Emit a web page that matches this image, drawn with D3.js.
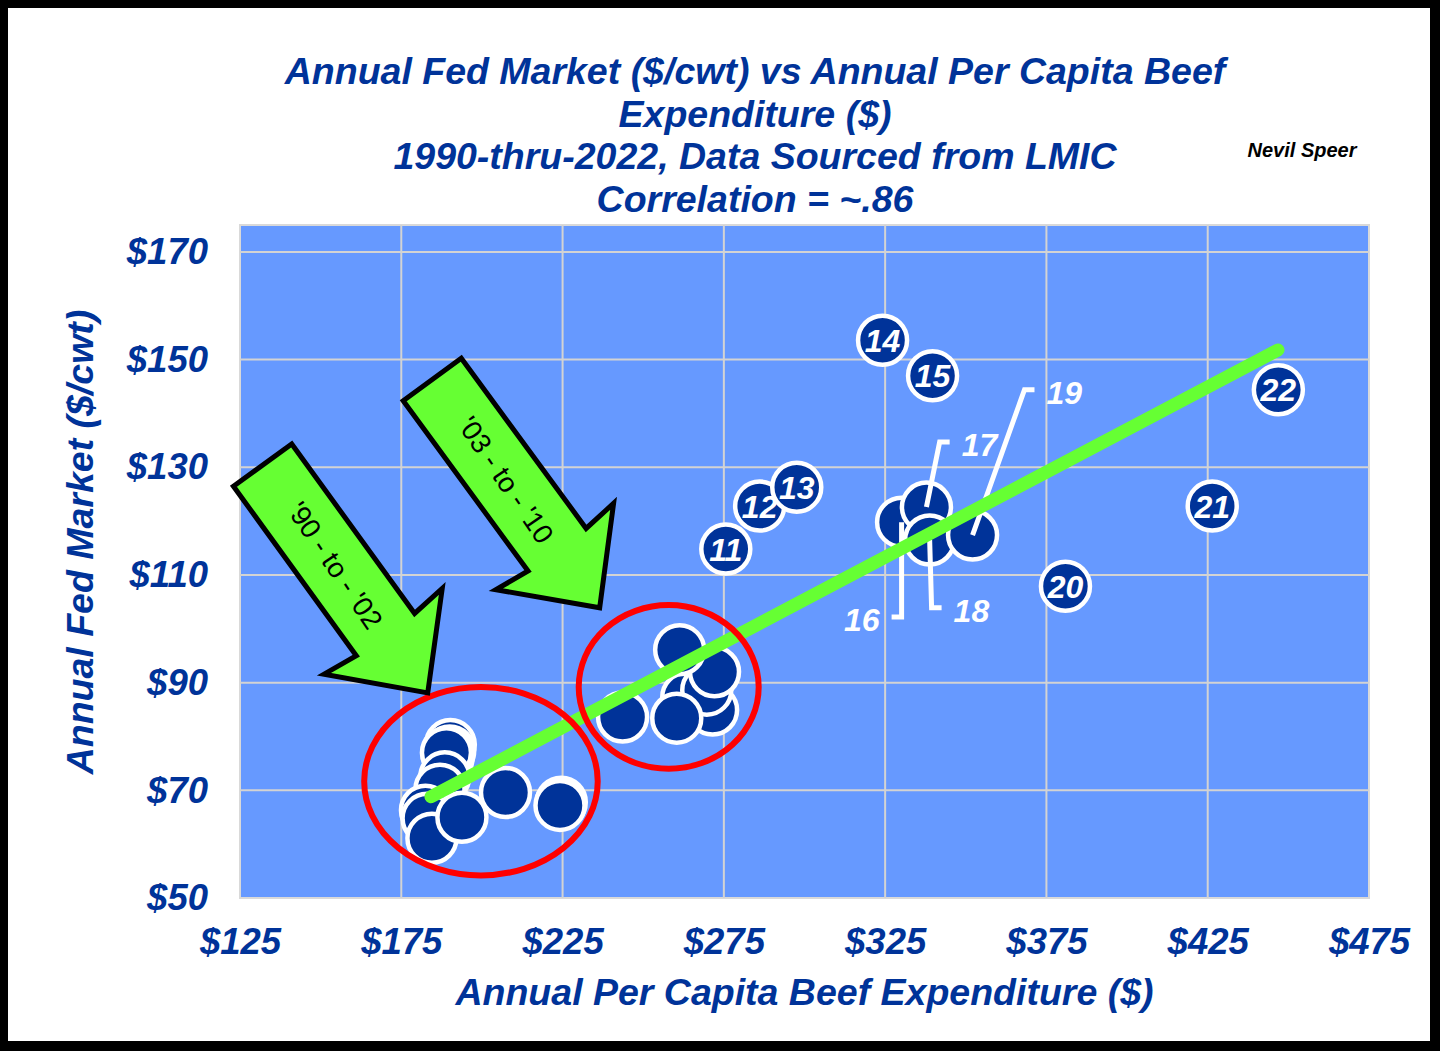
<!DOCTYPE html>
<html>
<head>
<meta charset="utf-8">
<script src="https://cdn.jsdelivr.net/npm/d3@7"></script>
<style>
  html, body { margin: 0; padding: 0; background: #000; }
  svg { display: block; }
  text { font-family: "Liberation Sans", Arial, sans-serif; }
</style>
</head>
<body>
<svg id="chart" width="1440" height="1051"></svg>
<script>
// ---------------- DATA ----------------
const years = [1990,1991,1992,1993,1994,1995,1996,1997,1998,1999,2000,2001,2002,
               2003,2004,2005,2006,2007,2008,2009,2010,
               2011,2012,2013,2014,2015,2016,2017,2018,2019,2020,2021,2022];
// Annual per capita beef expenditure ($)
const expenditure = [190.2,189.5,190.0,189.0,188.5,187.0,182.5,183.0,184.5,193.8,207.3,224.6,224.2,
                     243.6,264.4,263.5,271.5,269.7,272.1,260.4,261.3,
                     275.6,286.1,297.6,324.2,339.7,330.1,337.8,338.8,352.1,380.9,426.4,446.9];
// Annual fed market ($/cwt)
const fedPrice = [78.5,76.0,77.3,77.0,72.5,70.2,66.3,64.8,61.1,65.0,69.6,67.8,67.2,
                  83.6,85.8,87.3,84.9,88.6,92.0,83.4,96.1,
                  114.8,122.8,126.3,153.6,147.0,119.8,122.6,116.5,117.4,107.9,122.8,144.4];
// in-circle year labels (years from 2011 on, except the called-out ones)
const insideLabelYears = [2011,2012,2013,2014,2015,2020,2021,2022];
// called-out labels with leader lines (elbow in data units, side of label)
const calloutYears  = [2016, 2017, 2018, 2019];
const calloutElbowX = [330.1, 341.9, 339.4, 368.2];
const calloutElbowY = [102.2, 134.7, 103.9, 144.4];
const calloutSide   = [-1, 1, 1, 1];

const xTicks = [125,175,225,275,325,375,425,475];
const yTicks = [50,70,90,110,130,150,170];
const xDomain = [125, 475];
const yDomain = [50, 175];

// trend line endpoints
const trendX = [184.2, 446.8];
const trendY = [68.8, 151.8];

// highlight ellipses (center and radii in data units)
const ellipseCX = [199.7, 257.9];
const ellipseCY = [71.7, 89.2];
const ellipseRX = [36.2, 27.9];
const ellipseRY = [17.5, 15.2];

// block arrows: tail centre -> tip, in data units
const arrowLabels = ["'90 - to - '02", "'03 - to - '10"];
const arrowTailX = [132.0, 184.6];
const arrowTailY = [130.4, 146.3];
const arrowTipX  = [183.2, 236.5];
const arrowTipY  = [88.1, 103.9];

const titleLines = [
  "Annual Fed Market ($/cwt) vs Annual Per Capita Beef",
  "Expenditure ($)",
  "1990-thru-2022, Data Sourced from LMIC",
  "Correlation = ~.86"
];
const xTitle = "Annual Per Capita Beef Expenditure ($)";
const yTitle = "Annual Fed Market ($/cwt)";
const author = "Nevil Speer";

// ---------------- DRAW ----------------
const NAVY = "#003399";
const svg = d3.select("#chart");
svg.append("rect").attr("x",0).attr("y",0).attr("width",1440).attr("height",1051).attr("fill","#000");
svg.append("rect").attr("x",8).attr("y",8).attr("width",1422).attr("height",1033).attr("fill","#fff");

const plot = {left:240, right:1369, top:225, bottom:898};
const x = d3.scaleLinear().domain(xDomain).range([plot.left, plot.right]);
const y = d3.scaleLinear().domain(yDomain).range([plot.bottom, plot.top]);

// plot background
svg.append("rect")
  .attr("x", plot.left).attr("y", plot.top)
  .attr("width", plot.right - plot.left).attr("height", plot.bottom - plot.top)
  .attr("fill", "#6699FF").attr("stroke", "#D9D9D9").attr("stroke-width", 2);

// gridlines
const grid = svg.append("g");
grid.selectAll(".vg").data(xTicks.slice(1, -1)).join("line")
  .attr("x1", d => x(d)).attr("x2", d => x(d))
  .attr("y1", plot.top).attr("y2", plot.bottom)
  .attr("stroke", "#D3D3D3").attr("stroke-width", 2);
grid.selectAll(".hg").data(yTicks.slice(1)).join("line")
  .attr("x1", plot.left).attr("x2", plot.right)
  .attr("y1", d => y(d)).attr("y2", d => y(d))
  .attr("stroke", "#D3D3D3").attr("stroke-width", 2);

// axes (labels only)
const xAxis = d3.axisBottom(x).tickValues(xTicks).tickFormat(d => "$" + d).tickSize(0).tickPadding(30);
const gx = svg.append("g").attr("transform", `translate(0,${plot.bottom})`).call(xAxis);
gx.select(".domain").remove();
gx.selectAll("text").attr("fill", NAVY).attr("font-size", 36.5).attr("font-weight", "bold")
  .attr("font-style", "italic").attr("font-family", "Liberation Sans, Arial, sans-serif");

const yAxis = d3.axisLeft(y).tickValues(yTicks).tickFormat(d => "$" + d).tickSize(0).tickPadding(32);
const gy = svg.append("g").attr("transform", `translate(${plot.left},0)`).call(yAxis);
gy.select(".domain").remove();
gy.selectAll("text").attr("fill", NAVY).attr("font-size", 36.5).attr("font-weight", "bold")
  .attr("font-style", "italic").attr("font-family", "Liberation Sans, Arial, sans-serif");

// axis titles
svg.append("text").attr("x", (plot.left + plot.right) / 2).attr("y", 1005)
  .attr("text-anchor", "middle").attr("fill", NAVY).attr("font-size", 37.5)
  .attr("font-weight", "bold").attr("font-style", "italic").text(xTitle);
svg.append("text").attr("transform", "translate(93,542) rotate(-90)")
  .attr("text-anchor", "middle").attr("fill", NAVY).attr("font-size", 37.5)
  .attr("font-weight", "bold").attr("font-style", "italic").text(yTitle);

// title
svg.append("g").selectAll("text").data(titleLines).join("text")
  .attr("x", 755).attr("y", (d, i) => 84 + i * 42.7)
  .attr("text-anchor", "middle").attr("fill", NAVY).attr("font-size", 37.5)
  .attr("font-weight", "bold").attr("font-style", "italic").text(d => d);

svg.append("text").attr("x", 1302).attr("y", 157).attr("text-anchor", "middle")
  .attr("fill", "#000").attr("font-size", 20).attr("font-weight", "bold").attr("font-style", "italic")
  .attr("font-family", "Liberation Sans Narrow, Liberation Sans, Arial, sans-serif")
  .text(author);

// points (drawn in year order, later circles cover earlier ones and their labels)
const pts = years.map((yr, i) => ({year: yr, x: expenditure[i], y: fedPrice[i]}));
const gp = svg.append("g");
pts.forEach(d => {
  gp.append("circle")
    .attr("cx", x(d.x)).attr("cy", y(d.y)).attr("r", 24.5)
    .attr("fill", NAVY).attr("stroke", "#fff").attr("stroke-width", 4.5);
  if (insideLabelYears.includes(d.year)) {
    gp.append("text").attr("x", x(d.x)).attr("y", y(d.y)).attr("dy", "0.36em")
      .attr("text-anchor", "middle").attr("fill", "#fff").attr("font-size", 32)
      .attr("font-weight", "bold").attr("font-style", "italic")
      .text(String(d.year % 100).padStart(2, "0"));
  }
});

// callout leader lines + labels
const gc = svg.append("g");
calloutYears.forEach((yr, i) => {
  const p = pts.find(d => d.year === yr);
  const ex = x(calloutElbowX[i]), ey = y(calloutElbowY[i]);
  const side = calloutSide[i];
  const stub = 10;
  gc.append("path")
    .attr("d", d3.line()([[x(p.x), y(p.y)], [ex, ey], [ex + side * stub, ey]]))
    .attr("fill", "none").attr("stroke", "#fff").attr("stroke-width", 5)
    .attr("stroke-linejoin", "miter");
  gc.append("text")
    .attr("x", ex + side * (stub + 12)).attr("y", ey + 3).attr("dy", "0.36em")
    .attr("text-anchor", side < 0 ? "end" : "start")
    .attr("fill", "#fff").attr("font-size", 32).attr("font-weight", "bold").attr("font-style", "italic")
    .text(String(yr % 100));
});

// trend line
svg.append("line")
  .attr("x1", x(trendX[0])).attr("y1", y(trendY[0]))
  .attr("x2", x(trendX[1])).attr("y2", y(trendY[1]))
  .attr("stroke", "#66FF33").attr("stroke-width", 13).attr("stroke-linecap", "round");

// ellipses
svg.append("g").selectAll("ellipse").data(ellipseCX).join("ellipse")
  .attr("cx", (d, i) => x(d)).attr("cy", (d, i) => y(ellipseCY[i]))
  .attr("rx", (d, i) => x(xDomain[0] + ellipseRX[i]) - x(xDomain[0]))
  .attr("ry", (d, i) => y(yDomain[0]) - y(yDomain[0] + ellipseRY[i]))
  .attr("fill", "none").attr("stroke", "#FF0000").attr("stroke-width", 6);

// block arrows
const ga = svg.append("g");
arrowLabels.forEach((lab, i) => {
  const tx = x(arrowTailX[i]), ty = y(arrowTailY[i]);
  const px = x(arrowTipX[i]), py = y(arrowTipY[i]);
  const L = Math.hypot(px - tx, py - ty);
  const ang = Math.atan2(py - ty, px - tx) * 180 / Math.PI;
  const sw = 36, hw = 73, hl = 72;
  const shape = [[0,-sw],[L-hl,-sw],[L-hl-4,-hw],[L,0],[L-hl-4,hw],[L-hl,sw],[0,sw]];
  const g = ga.append("g").attr("transform", `translate(${tx},${ty}) rotate(${ang})`);
  g.append("path").attr("d", d3.line()(shape) + "Z")
    .attr("fill", "#66FF33").attr("stroke", "#000").attr("stroke-width", 5)
    .attr("stroke-linejoin", "miter");
  g.append("text").attr("x", L * 0.44).attr("y", 0).attr("dy", "0.35em")
    .attr("transform", `rotate(2 ${L * 0.44} 0)`)
    .attr("text-anchor", "middle").attr("fill", "#000").attr("font-size", 28)
    .attr("font-family", "Liberation Sans, Arial, sans-serif")
    .text(lab);
});
</script>
</body>
</html>
